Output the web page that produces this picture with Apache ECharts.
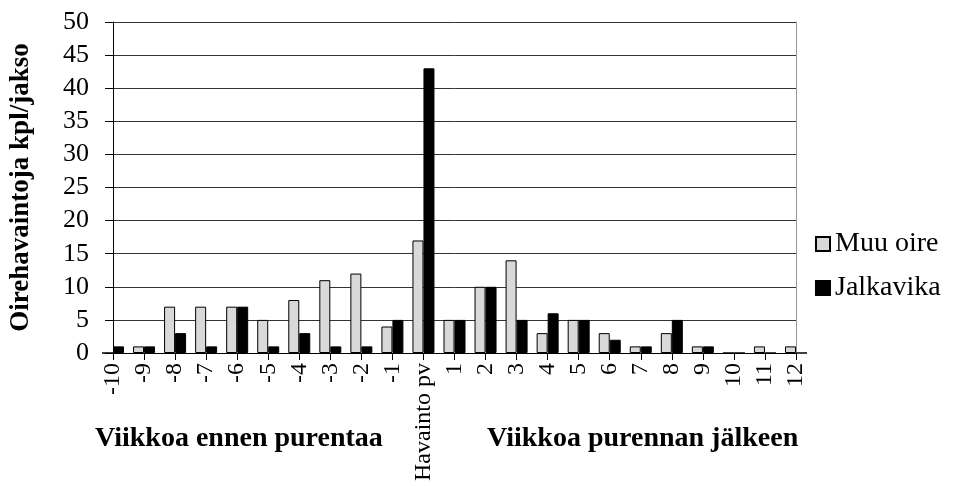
<!DOCTYPE html>
<html>
<head>
<meta charset="utf-8">
<script src="https://cdn.jsdelivr.net/npm/echarts@6/dist/echarts.min.js"></script>
<style>
  html, body { margin: 0; padding: 0; background: #fff; }
  #chart { width: 953px; height: 486px; }
</style>
</head>
<body>
<div id="chart"></div>
<script>
const weeks = ['-10', '-9', '-8', '-7', '-6', '-5', '-4', '-3', '-2', '-1', 'Havainto pv',
  '1', '2', '3', '4', '5', '6', '7', '8', '9', '10', '11', '12']
const muuOire = [0, 1, 7, 7, 7, 5, 8, 11, 12, 4, 17, 5, 10, 14, 3, 5, 3, 1, 3, 1, 0, 1, 1]
const jalkavika = [1, 1, 3, 1, 7, 1, 3, 1, 1, 5, 43, 5, 10, 5, 6, 5, 2, 1, 5, 1, 0, 0, 0]
const yMin = 0
const yMax = 50
const yStep = 5

const serif = 'Liberation Serif'

const chart = echarts.init(document.getElementById('chart'))

chart.setOption({
  animation: false,
  textStyle: { fontFamily: serif, color: '#000' },
  grid: { left: 110, right: 157, top: 22, bottom: 133 },
  legend: {
    orient: 'vertical',
    left: 810,
    top: 225,
    itemGap: 16,
    itemWidth: 14,
    itemHeight: 14,
    icon: 'rect',
    textStyle: { fontFamily: serif, fontSize: 28, color: '#000' },
    data: ['Muu oire', 'Jalkavika'],
  },
  xAxis: {
    type: 'category',
    data: weeks,
    boundaryGap: false,
    axisLine: { lineStyle: { color: '#000', width: 1 } },
    axisTick: { show: true, length: 7, interval: 0, lineStyle: { color: '#000' } },
    axisLabel: {
      interval: 0,
      rotate: 90,
      margin: 10,
      fontSize: 24,
      fontFamily: serif,
      color: '#000',
    },
    splitLine: { show: false },
  },
  yAxis: [
    {
      type: 'value',
      min: yMin,
      max: yMax,
      interval: yStep,
      name: 'Oirehavaintoja kpl/jakso',
      nameLocation: 'middle',
      nameGap: 78,
      nameTextStyle: { fontFamily: serif, fontSize: 27, fontWeight: 'bold', color: '#000' },
      axisLine: { show: true, lineStyle: { color: '#000', width: 1 } },
      axisTick: { show: true, length: 8, lineStyle: { color: '#000' } },
      axisLabel: { margin: 24, fontSize: 26, fontFamily: serif, color: '#000' },
      splitLine: { show: true, lineStyle: { color: '#333', width: 1 } },
    },
    {
      type: 'value',
      position: 'right',
      min: yMin,
      max: yMax,
      interval: yStep,
      axisLine: { show: true, lineStyle: { color: '#999', width: 1 } },
      axisTick: { show: false },
      axisLabel: { show: false },
      splitLine: { show: false },
    },
  ],
  series: [
    {
      name: 'Muu oire',
      type: 'bar',
      data: muuOire,
      barWidth: 11,
      barGap: '0%',
      clip: true,
      itemStyle: { color: '#d9d9d9', borderColor: '#000', borderWidth: 1 },
    },
    {
      name: 'Jalkavika',
      type: 'bar',
      data: jalkavika,
      barWidth: 11,
      barGap: '0%',
      clip: true,
      itemStyle: { color: '#000', borderColor: '#000', borderWidth: 1 },
    },
  ],
  graphic: [
    {
      type: 'text',
      left: 95,
      top: 425,
      style: { text: 'Viikkoa ennen purentaa', fontFamily: serif, fontSize: 28, fontWeight: 'bold', fill: '#000' },
    },
    {
      type: 'text',
      left: 487,
      top: 425,
      style: { text: 'Viikkoa purennan jälkeen', fontFamily: serif, fontSize: 28, fontWeight: 'bold', fill: '#000' },
    },
  ],
})
</script>
</body>
</html>
